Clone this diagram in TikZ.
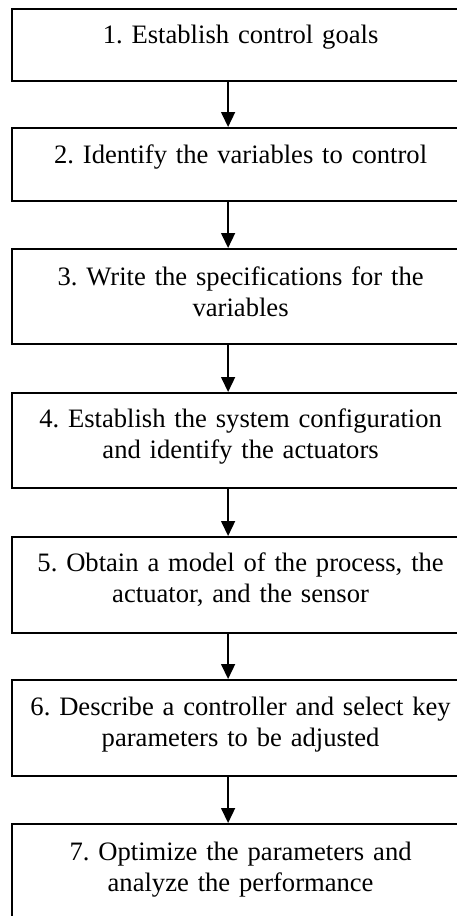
\documentclass[tikz,border=0pt]{standalone}
\usepackage{fontspec}
\setmainfont{Liberation Serif}
\usetikzlibrary{arrows.meta}
\frenchspacing
\begin{document}
\begin{tikzpicture}[x=1pt,y=-1pt,
  box/.style={draw=black, line width=2.2pt, minimum width=457pt, anchor=north west, inner sep=0pt},
  txt/.style={anchor=base, align=center, text width=440pt, inner sep=0pt, font=\frenchspacing\fontsize{26.6}{31}\selectfont},
  arr/.style={line width=1.5pt, -{Triangle[width=14pt,length=15pt]}}]
\useasboundingbox (0,0) rectangle (456,916);
\node[box, minimum height=72pt] (b1) at (11,8) {};
\node[box, minimum height=73pt] (b2) at (11,127) {};
\node[box, minimum height=95pt] (b3) at (11,248) {};
\node[box, minimum height=95pt] (b4) at (11,392) {};
\node[box, minimum height=96pt] (b5) at (11,536) {};
\node[box, minimum height=96pt] (b6) at (11,679) {};
\node[box, minimum height=120pt] (b7) at (11,823) {};
\node[txt] (t1) at ([yshift=-35pt]b1.north) {1. Establish control goals};
\node[txt] (t2) at ([yshift=-36pt]b2.north) {2. Identify the variables to control};
\node[txt] (t3) at ([yshift=-37pt]b3.north) {3. Write the specifications for the\\variables};
\node[txt] (t4) at ([yshift=-35pt]b4.north) {4. Establish the system configuration\\and identify the actuators};
\node[txt] (t5) at ([yshift=-35pt]b5.north) {5. Obtain a model of the process, the\\actuator, and the sensor};
\node[txt] (t6) at ([yshift=-36pt]b6.north) {6. Describe a controller and select key\\parameters to be adjusted};
\node[txt] (t7) at ([yshift=-37pt]b7.north) {7. Optimize the parameters and\\analyze the performance};
\foreach \a/\b in {b1/b2,b2/b3,b3/b4,b4/b5,b5/b6,b6/b7}{
  \draw[arr] ([xshift=-12.5pt]\a.south) -- ([xshift=-12.5pt]\b.north);
}
\end{tikzpicture}
\end{document}
